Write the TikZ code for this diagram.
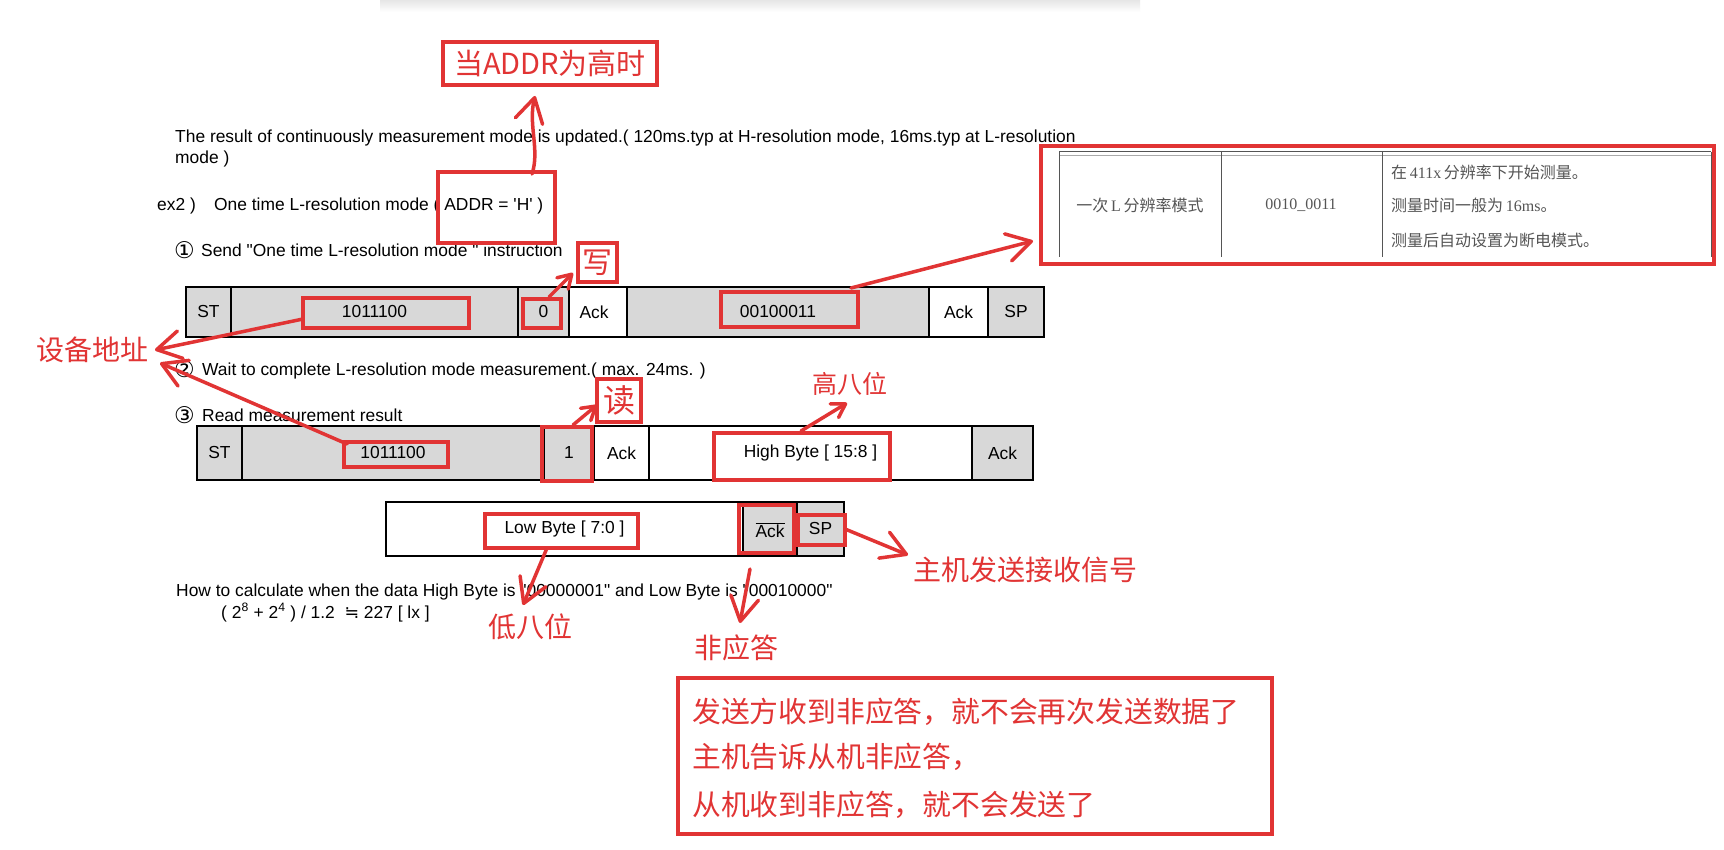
\documentclass[tikz,border=0pt]{standalone}
\usepackage{fontspec}
\setmainfont{Liberation Sans}
\newfontfamily\cjk{Noto Sans CJK SC}
\newfontfamily\dv{DejaVu Sans}
\newfontfamily\tms{Liberation Serif}
\usetikzlibrary{arrows.meta,fit}
\definecolor{myred}{RGB}{225,52,52}
\definecolor{cellgray}{RGB}{216,216,216}
\definecolor{tblgray}{RGB}{85,85,85}
\begin{document}
\begin{tikzpicture}[x=1pt,y=-1pt,
  en/.style={font=\fontsize{17.4}{20}\selectfont, inner sep=0, text=black, anchor=base west},
  circ/.style={font=\dv\fontsize{23}{24}\selectfont, inner sep=0, text=black, anchor=base west},
  cell/.style={draw=black, line width=1.2pt, inner sep=0},
  cellg/.style={cell, fill=cellgray},
  cellw/.style={cell, fill=white},
  ctext/.style={font=\fontsize{17.4}{20}\selectfont, inner sep=0, text=black},
  redbox/.style={draw=myred, line width=3.5pt, inner sep=0},
  redlab/.style={text=myred, font=\cjk\fontsize{28}{32}\selectfont, inner sep=0},
  bigarrow/.style={draw=myred, line width=3.5pt, line cap=round, -{Straight Barb[round,length=24pt,width=28pt]}},
  smallarrow/.style={draw=myred, line width=3.5pt, line cap=round, -{Straight Barb[round,length=13pt,width=16pt]}},
  tbltext/.style={text=tblgray, inner sep=0, font=\cjk\fontsize{16}{18}\selectfont}
]
\useasboundingbox (0,0) rectangle (1724,850);
\fill[white] (0,0) rectangle (1724,850);
\shade[top color=black!10, bottom color=white] (380,0) rectangle (1140,12);

% ---- row 1 ----
\node[cellg, fit={(186,287)(231,337)}] (r1st) {};
\node[cellg, fit={(231,287)(518,337)}] (r1ad) {};
\node[cellg, fit={(518,287)(569,337)}] (r1rw) {};
\node[cellw, fit={(569,287)(627,337)}] (r1ack) {};
\node[cellg, fit={(627,287)(929,337)}] (r1dat) {};
\node[cellw, fit={(929,287)(988,337)}] (r1ack2) {};
\node[cellg, fit={(988,287)(1044,337)}] (r1sp) {};
\node[ctext] at (r1st.center) {ST};
\node[ctext] at (r1ad.center) {1011100};
\node[ctext] at (r1rw.center) {0};
\node[ctext] at ([xshift=-4pt]r1ack.center) {Ack};
\node[ctext] at (r1dat.center) {00100011};
\node[ctext] at (r1ack2.center) {Ack};
\node[ctext] at (r1sp.center) {SP};
% ---- row 3 ----
\node[cellg, fit={(197,426)(242,480)}] (r3st) {};
\node[cellg, fit={(242,426)(544,480)}] (r3ad) {};
\node[cellg, fit={(544,426)(594,480)}] (r3rw) {};
\node[cellw, fit={(594,426)(649,480)}] (r3ack) {};
\node[cellw, fit={(649,426)(972,480)}] (r3dat) {};
\node[cellg, fit={(972,426)(1033,480)}] (r3ack2) {};
\node[ctext] at (r3st.center) {ST};
\node[ctext] at (r3ad.center) {1011100};
\node[ctext] at (r3rw.center) {1};
\node[ctext] at (r3ack.center) {Ack};
\node[ctext] at (r3dat.center) {High Byte [ 15:8 ]};
\node[ctext] at (r3ack2.center) {Ack};
% ---- row 4 ----
\node[cellw, fit={(386,502)(743,556)}] (r4dat) {};
\node[cellg, fit={(743,502)(797,556)}] (r4nack) {};
\node[cellg, fit={(797,502)(844,556)}] (r4sp) {};
\node[ctext] at (r4dat.center) {Low Byte [ 7:0 ]};
\node[ctext] at ([yshift=-1pt]r4nack.center) {$\overline{\hbox{Ack}}$};
\node[ctext] at (r4sp.center) {SP};

% ---- texts ----
\node[en] (t1) at (175,143) {The result of continuously measurement mode is updated.( 120ms.typ at H-resolution mode, 16ms.typ at L-resolution};
\node[en] (t2) at (175,164) {mode )};
\node[en] (t3a) at (157,211) {ex2 )};
\node[en] (t3b) at (214,211) {One time L-resolution mode ( ADDR = \textquotesingle H\textquotesingle\ )};
\node[circ] (t4n) at (174,259) {①};
\node[en] (t4) at (201,257) {Send \textquotedbl One time L-resolution mode \textquotedbl\ instruction};
\node[circ] (t5n) at (174,377) {②};
\node[en] (t5) at (202,375) {Wait to complete L-resolution mode measurement.( max. 24ms. )};
\node[circ] (t6n) at (174,423) {③};
\node[en] (t6) at (202,421) {Read measurement result};
\node[en] (t7) at (176,596) {How to calculate when the data High Byte is \textquotedbl 00000001\textquotedbl\ and Low Byte is \textquotedbl 00010000\textquotedbl};
\node[en] (t8) at (221,618) {( 2\textsuperscript{8} + 2\textsuperscript{4} ) / 1.2 \ {\dv ≒}\ 227 [ lx ]};

% ---- right table (screenshot) ----
\draw[tblgray, line width=1pt] (1059,152) -- (1711,152);
\draw[tblgray!50, line width=0.8pt] (1059,155) -- (1711,155);
\foreach \xx in {1059,1221,1382,1711} \draw[tblgray, line width=1pt] (\xx,152) -- (\xx,257);
\node[tbltext] (c1) at (1140,205) {一次\,{\tms L}\,分辨率模式};
\node[tbltext, font=\tms\fontsize{16}{18}\selectfont] (c2) at (1301,205) {0010\_0011};
\node[tbltext, anchor=west] (c3) at (1391,172) {在\,{\tms 411x}\,分辨率下开始测量。};
\node[tbltext, anchor=west] (c4) at (1391,205) {测量时间一般为\,{\tms 16ms}。};
\node[tbltext, anchor=west] (c5) at (1391,240) {测量后自动设置为断电模式。};
\node[redbox, fit={(1041,146)(1714,264)}] (tbl) {};

% ---- red boxes ----
\node[redbox, fit={(438,172)(555,243)}] (addrbox) {};
\node[redbox, fit={(443,42)(657,85)}] (hbox) {};
\node[redlab, font=\cjk\fontsize{29}{30}\selectfont] at (hbox.center) {当ADDR为高时};
\node[redbox, fit={(578,243)(617,282)}] (wbox) {};
\node[redlab, font=\cjk\fontsize{30}{30}\selectfont] at (wbox.center) {写};
\node[redbox, fit={(523,299)(561,328)}] (b0) {};
\node[redbox, fit={(303,298)(469,328)}] (b1ad) {};
\node[redbox, fit={(721,292)(858,327)}] (b1dat) {};
\node[redbox, fit={(344,442)(448,467)}] (b3ad) {};
\node[redbox, fit={(542,427)(592,481)}] (b1) {};
\node[redbox, fit={(597,379)(641,422)}] (rbox) {};
\node[redlab, font=\cjk\fontsize{32}{32}\selectfont] at (rbox.center) {读};
\node[redbox, fit={(714,433)(890,480)}] (bhb) {};
\node[redbox, fit={(485,514)(638,548)}] (blb) {};
\node[redbox, fit={(739,505)(794,553)}] (bnack) {};
\node[redbox, fit={(798,515)(845,545)}] (bsp) {};

% ---- red labels ----
\node[redlab] (ldev) at (92,350) {设备地址};
\node[redlab, font=\cjk\fontsize{25}{28}\selectfont] (lhigh) at (850,384) {高八位};
\node[redlab] (lmaster) at (1025,570) {主机发送接收信号};
\node[redlab] (llow) at (530,627) {低八位};
\node[redlab] (lnack) at (736,648) {非应答};
\node[redbox, fit={(678,678)(1272,834)}] (note) {};
\node[redlab, anchor=west, font=\cjk\fontsize{28.8}{32}\selectfont] (n1) at (692,712) {发送方收到非应答，就不会再次发送数据了};
\node[redlab, anchor=west, font=\cjk\fontsize{28.8}{32}\selectfont] (n2) at (692,757) {主机告诉从机非应答，};
\node[redlab, anchor=west, font=\cjk\fontsize{28.8}{32}\selectfont] (n3) at (692,805) {从机收到非应答，就不会发送了};

% ---- arrows ----
\coordinate (aS) at (532,174);
\coordinate (aE) at (535,96);
\draw[bigarrow] (aS) .. controls (540,150) and (528,125) .. (aE);
\coordinate (wS) at (549,297);
\coordinate (wE) at (573,273);
\draw[smallarrow] (wS) -- (wE);
\coordinate (tS) at (851,288);
\coordinate (tE) at (1033,241);
\draw[bigarrow] (tS) -- (tE);
\coordinate (d1S) at (303,319);
\coordinate (d1E) at (155,350);
\draw[bigarrow] (d1S) -- (d1E);
\coordinate (d2S) at (347,444);
\coordinate (d2E) at (160,363);
\draw[bigarrow] (d2S) -- (d2E);
\coordinate (rS) at (573,425);
\coordinate (rE) at (597,405);
\draw[smallarrow] (rS) -- (rE);
\coordinate (hS) at (801,431);
\coordinate (hE) at (847,403);
\draw[smallarrow] (hS) -- (hE);
\coordinate (sS) at (845,529);
\coordinate (sE) at (908,555);
\draw[bigarrow] (sS) -- (sE);
\coordinate (lS) at (547,548);
\coordinate (lE) at (523,605);
\draw[bigarrow] (lS) -- (lE);
\coordinate (nS) at (750,569);
\coordinate (nE) at (740,623);
\draw[bigarrow] (nS) -- (nE);
\end{tikzpicture}
\end{document}
